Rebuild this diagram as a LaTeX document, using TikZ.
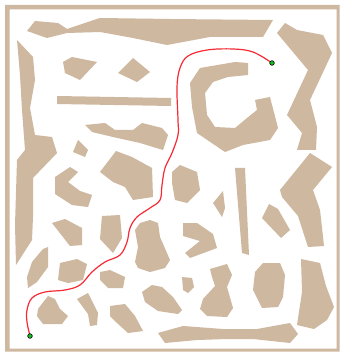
\documentclass[tikz,border=0pt]{standalone}
\usepackage{xcolor}
\usepackage{tikz}
\definecolor{sand}{HTML}{CEB89F}
\definecolor{pathred}{HTML}{F52A35}
\definecolor{dotgreen}{HTML}{10C020}
\tikzset{
    every picture/.style={line cap=round,line join=round},
    obstacle/.style={fill=sand,draw=none},
    frameband/.style={fill=sand,even odd rule},
    route/.style={draw=pathred,line width=1.2pt},
    endpoint/.style={circle,fill=dotgreen,draw=black,line width=0.6pt,
      minimum size=4.6pt,inner sep=0pt}
}

\begin{document}
\begin{tikzpicture}[x=1pt,y=-1pt]
  \useasboundingbox (0,0) rectangle (340,352);
  \fill[white] (0,0) rectangle (340,352);
  % outer wall
  \fill[frameband] (5,5) rectangle (339.5,351.5) (9.5,9.5) rectangle (336.5,348.5);
  % top and left walls
  \fill[obstacle] (27,31) -- (35,21) -- (58,23) -- (67,29) -- (100,18) -- (170,19)
    -- (273,20) -- (263,37) -- (210,37) -- (167,45) -- (133,38) -- (100,32)
    -- (67,33) -- (47,38) -- cycle;
  \fill[obstacle] (17,40) -- (33,57) -- (35,80) -- (30,108) -- (35,135) -- (52,137)
    -- (57,153) -- (33,178) -- (33,217) -- (32,240) -- (16,265) -- (15,225)
    -- (17,160) -- (25,150) -- (22,110) -- (20,75) -- cycle;
  % upper left block
  \fill[obstacle] (63,62) -- (72,57) -- (97,62) -- (80,80) -- (65,73) -- cycle;
  \fill[obstacle] (118,73) -- (133,58) -- (150,72) -- (137,82) -- cycle;
  \fill[obstacle] (57,96) -- (171,98) -- (171,106) -- (57,104) -- cycle;
  \fill[obstacle] (85,125) -- (105,123) -- (115,130) -- (133,130) -- (142,123)
    -- (162,128) -- (168,135) -- (163,150) -- (140,143) -- (113,137) -- (92,132) -- cycle;
  \fill[obstacle] (78,140) -- (88,150) -- (85,157) -- (73,152) -- cycle;
  \fill[obstacle] (100,172) -- (116,151) -- (132,157) -- (152,168) -- (153,197)
    -- (133,200) -- (125,187) -- (113,182) -- cycle;
  \fill[obstacle] (55,177) -- (70,167) -- (78,172) -- (68,182) -- (80,191) -- (92,195)
    -- (88,207) -- (72,205) -- (55,194) -- cycle;
  % lower left block
  \fill[obstacle] (52,223) -- (65,219) -- (82,228) -- (82,245) -- (70,246) -- cycle;
  \fill[obstacle] (102,216) -- (120,215) -- (122,238) -- (113,253) -- (100,239) -- cycle;
  \fill[obstacle] (32,262) -- (43,249) -- (48,247) -- (48,267) -- (37,282) -- (28,288)
    -- (27,277) -- cycle;
  \fill[obstacle] (60,263) -- (77,259) -- (87,264) -- (83,280) -- (68,283) -- (58,280) -- cycle;
  \fill[obstacle] (100,272) -- (110,270) -- (125,277) -- (123,288) -- (108,288)
    -- (100,280) -- cycle;
  \fill[obstacle] (38,309) -- (48,296) -- (55,299) -- (60,309) -- (68,316) -- (62,324)
    -- (43,324) -- (37,316) -- cycle;
  \fill[obstacle] (77,299) -- (88,293) -- (92,301) -- (98,313) -- (97,325) -- (90,326)
    -- (88,314) -- cycle;
  \fill[obstacle] (110,306) -- (125,304) -- (135,316) -- (143,331) -- (128,333)
    -- (117,323) -- (110,316) -- cycle;
  \fill[obstacle] (135,230) -- (140,223) -- (150,220) -- (158,223) -- (160,237)
    -- (170,260) -- (165,268) -- (150,272) -- (138,268) -- (135,262) -- (138,247) -- cycle;
  \fill[obstacle] (142,292) -- (152,285) -- (162,287) -- (173,297) -- (182,310)
    -- (178,314) -- (158,311) -- (145,302) -- cycle;
  % bottom wall
  \fill[obstacle] (158,333) -- (183,326) -- (223,329) -- (257,329) -- (290,323)
    -- (298,334) -- (290,343) -- (253,339) -- (227,339) -- (197,340) -- (165,343) -- cycle;
  % middle block
  \fill[obstacle] (172,172) -- (180,165) -- (197,172) -- (200,190) -- (187,203)
    -- (175,200) -- (172,183) -- cycle;
  \fill[obstacle] (213,203) -- (223,191) -- (225,208) -- (222,217) -- cycle;
  \fill[obstacle] (183,223) -- (197,223) -- (213,234) -- (217,248) -- (190,258)
    -- (185,253) -- (200,241) -- (183,236) -- cycle;
  \fill[obstacle] (182,277) -- (192,278) -- (194,287) -- (188,293) -- (183,290) -- cycle;
  \fill[obstacle] (210,269) -- (227,264) -- (232,275) -- (227,287) -- (233,308)
    -- (227,317) -- (207,316) -- (200,309) -- (203,299) -- (215,286) -- (212,277) -- cycle;
  \fill[obstacle] (235,168) -- (245,168) -- (249,255) -- (242,253) -- cycle;
  % right block
  \fill[obstacle] (190,83) -- (200,68) -- (235,62) -- (248,63) -- (248,75) -- (228,77)
    -- (213,82) -- (205,93) -- (207,115) -- (215,127) -- (235,128) -- (247,118)
    -- (257,110) -- (255,100) -- (270,97) -- (278,128) -- (270,140) -- (243,145)
    -- (225,152) -- (197,133) -- (192,107) -- cycle;
  \fill[obstacle] (277,33) -- (285,23) -- (297,30) -- (323,35) -- (332,53) -- (310,100)
    -- (317,127) -- (316,150) -- (297,150) -- (302,133) -- (287,115) -- (308,70) -- cycle;
  \fill[obstacle] (280,190) -- (310,153) -- (332,167) -- (313,190) -- (320,210)
    -- (324,246) -- (308,247) -- (298,216) -- (282,197) -- cycle;
  \fill[obstacle] (262,218) -- (269,204) -- (278,209) -- (290,230) -- (281,238) -- cycle;
  \fill[obstacle] (255,272) -- (263,263) -- (280,263) -- (285,275) -- (283,297)
    -- (278,307) -- (262,308) -- (253,290) -- cycle;
  \fill[obstacle] (301,259) -- (320,263) -- (326,286) -- (334,307) -- (327,320)
    -- (314,329) -- (297,325) -- (302,292) -- cycle;
  % planned route
  \coordinate (start) at (30,336);
  \coordinate (goal) at (272,63);
  \draw[route] plot[smooth,tension=0.6] coordinates {(goal) (253,52) (233,49) (207,50)
    (188,56) (180,68) (177,87) (178,120) (178,135) (172,153) (165,168) (162,185)
    (160,200) (150,208) (137,217) (130,228) (127,242) (120,255) (105,262) (92,272)
    (80,285) (65,290) (45,292) (32,298) (27,310) (27,322) (start)};
  \node[endpoint] (s) at (start) {};
  \node[endpoint] (g) at (goal) {};
\end{tikzpicture}
\end{document}
